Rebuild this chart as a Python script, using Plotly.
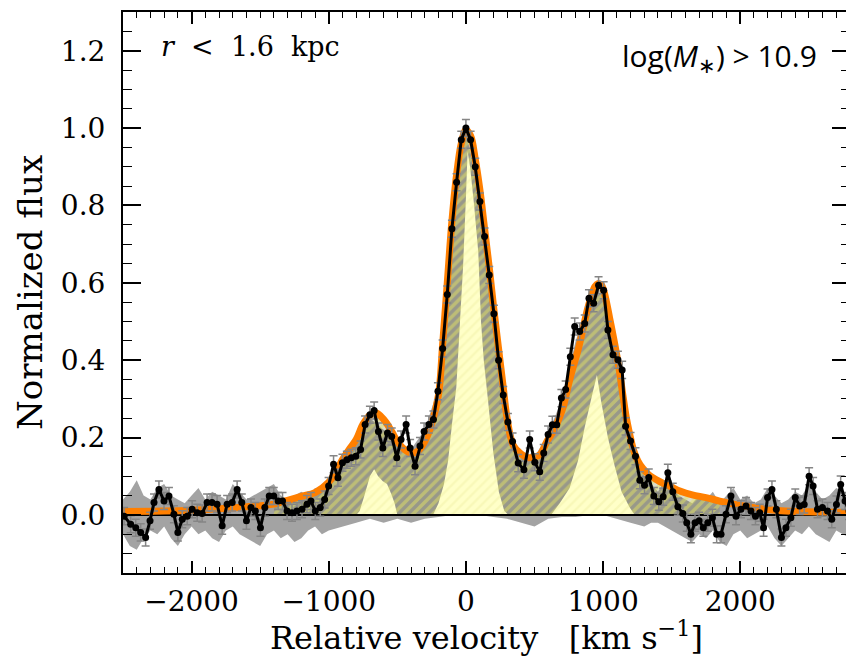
import plotly.graph_objects as go

# ---------------- data ----------------
vel = [-2492, -2444, -2407, -2371, -2335, -2303, -2274, -2238, -2201, -2165,
       -2129, -2100, -2068, -2032, -1996, -1959, -1923, -1887, -1851, -1814,
       -1777, -1741, -1704, -1668, -1634, -1600, -1567, -1535, -1498, -1466,
       -1434, -1401, -1369, -1337, -1304, -1268, -1232, -1195, -1159, -1130,
       -1098, -1062, -1030, -1001, -965, -933, -900, -868, -836, -803,
       -768, -735, -700, -669, -638, -606, -572, -541, -504, -473,
       -436, -407, -371, -335, -305, -270, -237, -204, -170, -136,
       -102, -68, -34, 0, 34, 68, 102, 136, 170, 204,
       238, 272, 306, 340, 381, 423, 465, 502, 538, 567,
       599, 630, 662, 696, 727, 761, 793, 829, 866, 897,
       931, 967, 1004, 1035, 1072, 1108, 1139, 1164, 1200, 1236,
       1268, 1302, 1333, 1370, 1406, 1438, 1472, 1508, 1545, 1581,
       1610, 1640, 1670, 1700, 1731, 1763, 1797, 1828, 1860, 1896,
       1932, 1969, 2005, 2042, 2078, 2111, 2142, 2170, 2199, 2231,
       2263, 2300, 2333, 2369, 2401, 2433, 2466, 2502, 2531, 2563,
       2599, 2636, 2667, 2701, 2732, 2764, 2793]
flux = [-0.003, -0.024, -0.033, -0.045, -0.058, -0.015, 0.032, 0.066, 0.036, 0.049,
        0.002, -0.045, -0.011, -0.003, 0.015, 0.006, 0.004, 0.032, 0.032, 0.028,
        -0.028, 0.028, 0.032, 0.066, 0.032, -0.015, 0.019, 0.010, -0.033, 0.019,
        0.049, 0.049, 0.036, 0.036, 0.010, 0.006, 0.010, 0.015, 0.028, 0.036,
        0.010, 0.019, 0.040, 0.075, 0.131, 0.096, 0.135, 0.143, 0.148, 0.152,
        0.169, 0.234, 0.259, 0.270, 0.216, 0.173, 0.212, 0.203, 0.148, 0.195,
        0.234, 0.173, 0.126, 0.178, 0.216, 0.234, 0.247, 0.320, 0.430, 0.570,
        0.740, 0.860, 0.970, 1.000, 0.970, 0.900, 0.810, 0.720, 0.620, 0.520,
        0.400, 0.310, 0.240, 0.190, 0.134, 0.117, 0.195, 0.136, 0.112, 0.160,
        0.208, 0.233, 0.233, 0.302, 0.324, 0.409, 0.487, 0.474, 0.495, 0.560,
        0.547, 0.594, 0.581, 0.478, 0.414, 0.401, 0.375, 0.229, 0.191, 0.152,
        0.090, 0.077, 0.097, 0.049, 0.034, 0.047, 0.109, 0.060, 0.021, 0.004,
        -0.020, -0.050, -0.020, -0.015, -0.033, -0.020, -0.007, -0.050, -0.050, 0.002,
        0.049, -0.003, 0.015, 0.023, 0.010, -0.003, 0.006, -0.033, 0.045, 0.066,
        0.015, -0.058, -0.033, -0.007, 0.045, 0.023, 0.027, 0.100, 0.075, 0.015,
        0.019, 0.010, -0.011, 0.027, 0.079, 0.036, 0.010]
flux_err = 0.022

# total model fit (orange)
model_v = [-2500, -2200, -2000, -1800, -1600, -1400, -1300, -1200, -1100, -1000,
           -950, -900, -850, -800, -750, -700, -660, -620, -580, -540,
           -500, -450, -400, -350, -300, -250, -200, -170, -136, -102,
           -68, -34, 0, 34, 68, 102, 136, 170, 204, 238,
           272, 300, 345, 400, 450, 500, 540, 590, 635, 680,
           710, 750, 780, 820, 853, 885, 914, 940, 962, 985,
           1000, 1025, 1047, 1075, 1096, 1120, 1144, 1170, 1193, 1220,
           1253, 1290, 1330, 1410, 1500, 1560, 1650, 1750, 1850, 1950,
           2100, 2300, 2500, 2800]
model_f = [0.009, 0.010, 0.012, 0.016, 0.021, 0.028, 0.038, 0.048, 0.058, 0.085,
           0.110, 0.143, 0.170, 0.195, 0.235, 0.258, 0.264, 0.255, 0.238, 0.215,
           0.190, 0.170, 0.160, 0.165, 0.190, 0.235, 0.310, 0.440, 0.600, 0.760,
           0.880, 0.960, 0.995, 0.980, 0.920, 0.840, 0.740, 0.640, 0.530, 0.430,
           0.330, 0.250, 0.180, 0.158, 0.148, 0.150, 0.156, 0.190, 0.215, 0.250,
           0.280, 0.340, 0.380, 0.430, 0.480, 0.530, 0.565, 0.590, 0.598, 0.595,
           0.585, 0.550, 0.510, 0.460, 0.420, 0.370, 0.310, 0.250, 0.210, 0.170,
           0.140, 0.120, 0.105, 0.087, 0.072, 0.062, 0.052, 0.045, 0.036, 0.028,
           0.019, 0.011, 0.008, 0.006]
hatch_lo, hatch_hi = -1450, 1880

# grey uncertainty band
band_v = [-2500, -2450, -2400, -2350, -2300, -2250, -2200, -2150, -2100, -2050,
          -2000, -1950, -1900, -1850, -1800, -1750, -1700, -1650, -1600, -1550,
          -1500, -1450, -1400, -1350, -1300, -1250, -1200, -1150, -1100, -1050,
          -1000, -900, -800, -700, -600, -500, -400, -300, -200, -100,
          0, 100, 200, 300, 400, 500, 600, 700, 800, 900,
          1000, 1100, 1200, 1300, 1350, 1400, 1450, 1500, 1550, 1600,
          1650, 1700, 1750, 1800, 1850, 1900, 1950, 2000, 2050, 2100,
          2150, 2200, 2250, 2300, 2350, 2400, 2450, 2500, 2550, 2600,
          2650, 2700, 2750, 2800]
band_hi = [0.04, 0.06, 0.09, 0.05, 0.04, 0.07, 0.08, 0.05, 0.04, 0.03,
           0.05, 0.07, 0.04, 0.06, 0.05, 0.04, 0.08, 0.06, 0.04, 0.05,
           0.06, 0.07, 0.08, 0.05, 0.04, 0.05, 0.06, 0.05, 0.07, 0.06,
           0.09, 0.15, 0.18, 0.25, 0.22, 0.19, 0.17, 0.22, 0.33, 0.75,
           0.99, 0.83, 0.53, 0.25, 0.15, 0.15, 0.21, 0.30, 0.45, 0.55,
           0.58, 0.40, 0.19, 0.10, 0.08, 0.06, 0.09, 0.07, 0.05, 0.04,
           0.03, 0.05, 0.04, 0.06, 0.03, 0.05, 0.07, 0.04, 0.05, 0.03,
           0.04, 0.07, 0.05, 0.03, 0.04, 0.06, 0.05, 0.08, 0.06, 0.04,
           0.05, 0.07, 0.06, 0.04]
band_lo = [-0.05, -0.08, -0.09, -0.06, -0.04, -0.05, -0.03, -0.06, -0.08, -0.05,
           -0.03, -0.05, -0.04, -0.06, -0.07, -0.04, -0.03, -0.05, -0.06, -0.07,
           -0.08, -0.05, -0.04, -0.06, -0.05, -0.07, -0.06, -0.04, -0.03, -0.05,
           -0.04, -0.03, -0.02, -0.01, -0.02, -0.01, -0.02, -0.01, -0.005, 0.0,
           0.0, 0.0, -0.005, -0.01, -0.02, -0.03, -0.01, -0.005, -0.005, 0.0,
           0.0, -0.01, -0.02, -0.03, -0.02, -0.02, -0.03, -0.04, -0.05, -0.06,
           -0.07, -0.05, -0.06, -0.04, -0.07, -0.08, -0.05, -0.04, -0.06, -0.05,
           -0.04, -0.03, -0.06, -0.08, -0.06, -0.04, -0.05, -0.03, -0.05, -0.06,
           -0.07, -0.04, -0.05, -0.06]

# narrow components (pale yellow)
narrow_v = [-800, -775, -740, -700, -669, -640, -606, -575, -545, -520, -500,
            -240, -200, -160, -130, -100, -70, -48, -21, 0, 12, 30, 60, 90,
            110, 130, 160, 200, 240, 280, 310,
            620, 684, 756, 817, 866, 920, 955, 986, 1035, 1084, 1135, 1193, 1230]
narrow_f = [0.0, 0.01, 0.05, 0.10, 0.118, 0.10, 0.087, 0.08, 0.055, 0.03, 0.0,
            0.0, 0.03, 0.08, 0.14, 0.24, 0.33, 0.47, 0.64, 0.82, 0.94, 0.90, 0.80, 0.68,
            0.50, 0.40, 0.30, 0.16, 0.06, 0.01, 0.0,
            0.0, 0.03, 0.07, 0.14, 0.227, 0.31, 0.362, 0.293, 0.20, 0.127, 0.06, 0.02, 0.0]

label_left = "<i>r</i>\u00a0\u00a0&lt;\u00a0\u00a01.6\u00a0\u00a0kpc"
label_right = "log(<i>M</i><sub>\u2217</sub>) &gt; 10.9"
x_title = "Relative velocity\u00a0\u00a0\u00a0[km s<sup>\u22121</sup>]"
y_title = "Normalized flux"

# ---------------- figure ----------------
fig = go.Figure()

fig.add_trace(go.Scatter(
    x=band_v + band_v[::-1], y=band_hi + band_lo[::-1],
    fill="toself", fillcolor="#a3a3a3", mode="lines",
    line=dict(width=0), hoverinfo="skip"))

hv = [v for v in model_v if hatch_lo <= v <= hatch_hi]
hf = [f for v, f in zip(model_v, model_f) if hatch_lo <= v <= hatch_hi]
fig.add_trace(go.Scatter(
    x=hv, y=hf, fill="tozeroy", mode="none",
    fillcolor="rgba(0,0,0,0)",
    fillpattern=dict(shape="/", fgcolor="#e2e266", bgcolor="rgba(120,120,60,0.25)",
                     size=7, solidity=0.5),
    hoverinfo="skip"))

fig.add_trace(go.Scatter(
    x=narrow_v, y=narrow_f, fill="tozeroy", mode="none",
    fillcolor="#ffffc4",
    fillpattern=dict(shape="/", fgcolor="#f2f2a8", bgcolor="#ffffc8",
                     size=7, solidity=0.35),
    hoverinfo="skip"))

fig.add_trace(go.Scatter(
    x=[-2500, 2800], y=[0, 0], mode="lines",
    line=dict(color="black", width=2), hoverinfo="skip"))

fig.add_trace(go.Scatter(
    x=model_v, y=model_f, mode="lines",
    line=dict(color="#ff7f00", width=7, shape="spline")))

fig.add_trace(go.Scatter(
    x=vel, y=flux, mode="lines+markers",
    line=dict(color="black", width=3),
    marker=dict(color="black", size=7),
    error_y=dict(type="constant", value=flux_err, color="#858585",
                 thickness=1.5, width=4)))

tickfont = dict(family="DejaVu Serif", size=28, color="black")

# the page body adds an 8 px offset, so the figure is slightly smaller
fig.update_layout(
    width=846, height=655,
    margin=dict(l=115, r=4, t=4, b=90),
    paper_bgcolor="white", plot_bgcolor="white",
    showlegend=False,
    xaxis=dict(range=[-2500, 2800], tickmode="linear", tick0=0, dtick=1000,
               ticks="inside", ticklen=12, tickwidth=1.5, tickcolor="black",
               showline=True, linecolor="black", linewidth=2, mirror="ticks",
               showgrid=False, zeroline=False, automargin=False,
               minor=dict(tick0=0, dtick=100, ticks="inside", ticklen=6,
                          tickwidth=1.2, tickcolor="black", showgrid=False),
               tickfont=tickfont, ticklabelstandoff=2),
    yaxis=dict(range=[-0.15, 1.3], tickmode="linear", tick0=0, dtick=0.2,
               tickformat=".1f",
               ticks="inside", ticklen=18, tickwidth=1.5, tickcolor="black",
               showline=True, linecolor="black", linewidth=2, mirror="ticks",
               showgrid=False, zeroline=False, automargin=False,
               minor=dict(tick0=0, dtick=0.05, ticks="inside", ticklen=9,
                          tickwidth=1.2, tickcolor="black", showgrid=False),
               tickfont=tickfont, ticklabelstandoff=10,
               title=dict(text=y_title,
                          font=dict(family="DejaVu Serif", size=34, color="black"),
                          standoff=8)),
    annotations=[
        dict(text=x_title, xref="paper", yref="paper", x=0.5, y=-0.113,
             xanchor="center", yanchor="middle", showarrow=False,
             font=dict(family="DejaVu Serif", size=32, color="black")),
        dict(text=label_left, xref="paper", yref="paper", x=0.05, y=0.938,
             xanchor="left", yanchor="middle", showarrow=False,
             font=dict(family="DejaVu Serif", size=27, color="black")),
        dict(text=label_right, xref="paper", yref="paper", x=0.958, y=0.92,
             xanchor="right", yanchor="middle", showarrow=False,
             font=dict(family="Open Sans", size=30, color="black")),
    ],
)

fig.write_html("out.html")
